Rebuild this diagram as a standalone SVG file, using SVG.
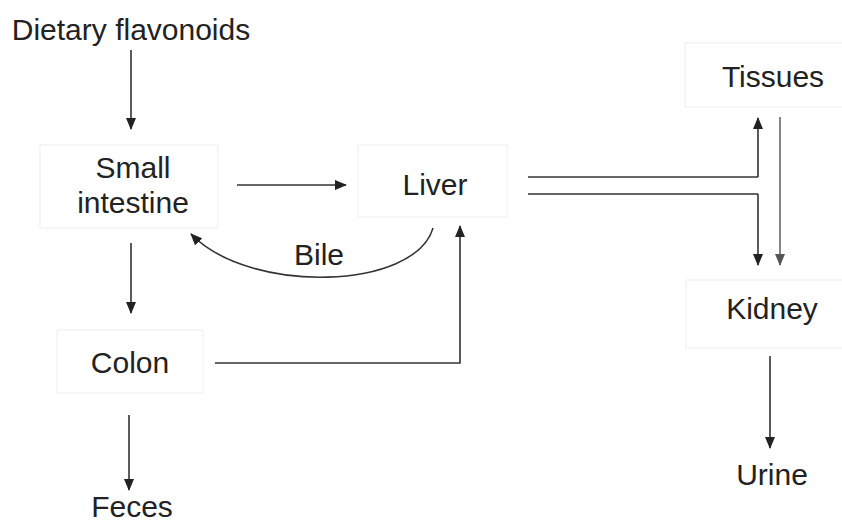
<svg xmlns="http://www.w3.org/2000/svg" width="842" height="525" viewBox="0 0 842 525">
<style>
text{font-family:"Liberation Sans",Arial,sans-serif;font-size:30px;fill:#222;text-anchor:middle}
.box{fill:#fff;stroke:#f4f4f4;stroke-width:1.5}
.ln{fill:none;stroke:#333;stroke-width:1.6}
.lg{fill:none;stroke:#666;stroke-width:1.6}
</style>
<defs>
<marker id="ah" markerUnits="userSpaceOnUse" markerWidth="12" markerHeight="10" refX="11" refY="5" orient="auto">
<path d="M0,0 L12,5 L0,10 z" fill="#222"/>
</marker>
<marker id="ahg" markerUnits="userSpaceOnUse" markerWidth="12" markerHeight="10" refX="11" refY="5" orient="auto">
<path d="M0,0 L12,5 L0,10 z" fill="#555"/>
</marker>
</defs>
<rect width="842" height="525" fill="#fff"/>
<g id="dietary"><text x="131" y="40">Dietary flavonoids</text></g>
<g id="small-intestine"><rect class="box" x="40" y="145" width="178" height="83"/><text x="133" y="178">Small</text><text x="133" y="213">intestine</text></g>
<g id="liver"><rect class="box" x="358" y="145" width="149" height="72"/><text x="435" y="195">Liver</text></g>
<g id="colon"><rect class="box" x="57" y="330" width="146" height="63"/><text x="130" y="373">Colon</text></g>
<g id="feces"><text x="132" y="517">Feces</text></g>
<g id="tissues"><rect class="box" x="685" y="43" width="160" height="64"/><text x="773" y="87">Tissues</text></g>
<g id="kidney"><rect class="box" x="686" y="280" width="160" height="68"/><text x="772" y="319">Kidney</text></g>
<g id="urine"><text x="772" y="485">Urine</text></g>
<g id="bile-label"><text x="319" y="265">Bile</text></g>
<g id="connectors">
<line class="ln" x1="131" y1="50" x2="131" y2="129" marker-end="url(#ah)"/>
<line class="ln" x1="237" y1="185" x2="346" y2="185" marker-end="url(#ah)"/>
<line class="ln" x1="131" y1="243" x2="131" y2="313" marker-end="url(#ah)"/>
<line class="ln" x1="129" y1="415" x2="129" y2="490" marker-end="url(#ah)"/>
<path class="ln" d="M215,363 L460,363 L460,226" marker-end="url(#ah)"/>
<path class="ln" d="M433,228 C415,290 250,295 191,234" marker-end="url(#ah)"/>
<line class="ln" x1="528" y1="177" x2="758" y2="177"/>
<line class="ln" x1="528" y1="194" x2="758" y2="194"/>
<line class="ln" x1="758" y1="177" x2="758" y2="118" marker-end="url(#ah)"/>
<line class="ln" x1="758" y1="194" x2="758" y2="265" marker-end="url(#ah)"/>
<line class="lg" x1="780" y1="117" x2="780" y2="265" marker-end="url(#ahg)"/>
<line class="ln" x1="770" y1="356" x2="770" y2="448" marker-end="url(#ah)"/>
</g>
</svg>
